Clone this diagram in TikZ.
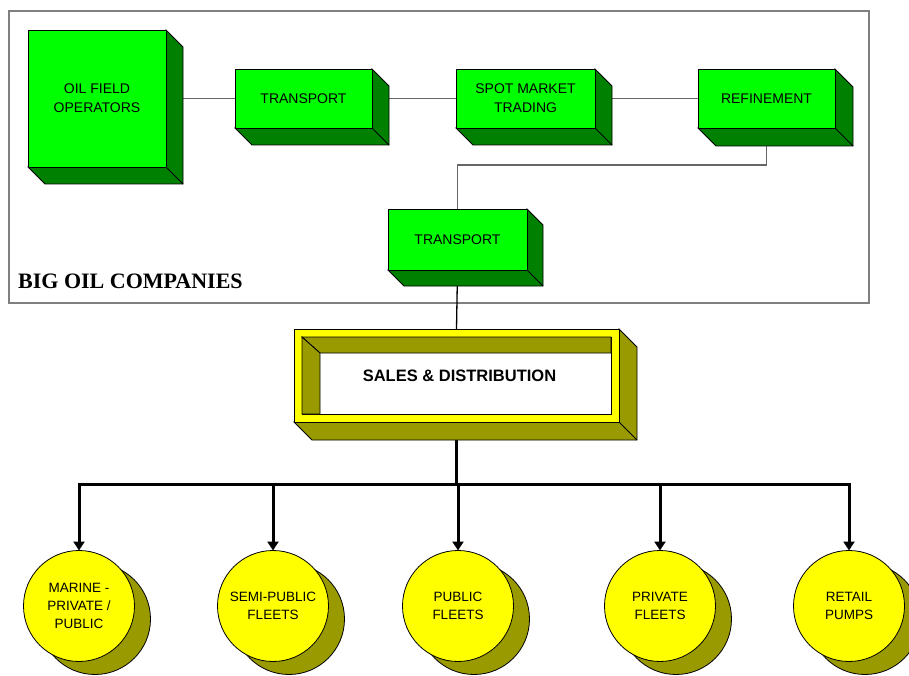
\documentclass[tikz,border=0pt]{standalone}
\usepackage{fontspec}
\setmainfont{Liberation Serif}
\setsansfont{Liberation Sans}
\usetikzlibrary{calc,arrows.meta,backgrounds}
\definecolor{gfront}{HTML}{00FF00}
\definecolor{gside}{HTML}{008000}
\definecolor{yfront}{HTML}{FFFF00}
\definecolor{yside}{HTML}{999900}
\definecolor{framegray}{HTML}{808080}
\newcommand\mkdepth[3][gside]{%
  \fill[#1,draw=black,line width=0.8pt] (#2.north east) -- ++(#3,#3) -- ($(#2.south east)+(#3,#3)$) -- ($(#2.south west)+(#3,#3)$) -- (#2.south west) -- (#2.south east) -- cycle;
  \draw[line width=0.8pt] (#2.south east) -- ++(#3,#3);}
\begin{document}
\begin{tikzpicture}[x=1pt,y=-1pt,
  gbox/.style={draw=black, line width=0.8pt, fill=gfront, inner sep=0pt, outer sep=0pt, align=center,
    font=\sffamily\fontsize{14}{19}\selectfont},
  ycirc/.style={circle, draw=black, line width=0.8pt, fill=yfront, inner sep=0pt, outer sep=0pt,
    minimum size=111pt, align=center, font=\sffamily\fontsize{13.5}{18}\selectfont},
  thinline/.style={draw=framegray!80!black, line width=1.4pt},
  darkline/.style={draw=black, line width=1.3pt},
  busline/.style={draw=black, line width=3pt},
  arr/.style={-{Triangle[length=9pt,width=11pt]}}]
\useasboundingbox (0,0) rectangle (909,676);
% main layer: nodes
\node[gbox, minimum width=138pt, minimum height=137pt] (oil) at (97,98.5) {OIL FIELD\\OPERATORS};
\node[gbox, minimum width=137pt, minimum height=59pt] (t1) at (303.5,98.5) {TRANSPORT};
\node[gbox, minimum width=139pt, minimum height=59pt] (spot) at (525.5,98.5) {SPOT MARKET\\TRADING};
\node[gbox, minimum width=137pt, minimum height=59pt] (ref) at (766.5,98.5) {REFINEMENT};
\node[gbox, minimum width=139pt, minimum height=61pt] (t2) at (457.5,239.5) {TRANSPORT};
\node[anchor=base west, inner sep=0pt, font=\bfseries\fontsize{22}{26}\selectfont] (big) at (18,288) {BIG OIL COMPANIES};
\node[draw=black, line width=0.8pt, minimum width=325pt, minimum height=93pt, inner sep=0pt, outer sep=0pt,
  font=\sffamily\bfseries\fontsize{16.5}{19}\selectfont] (sales) at (456.5,375.5) {\hspace{6pt}SALES \& DISTRIBUTION};
\node[ycirc] (c1) at (79,606) {MARINE -\\PRIVATE /\\PUBLIC};
\node[ycirc] (c2) at (273,606) {SEMI-PUBLIC\\FLEETS};
\node[ycirc] (c3) at (458,606) {PUBLIC\\FLEETS};
\node[ycirc] (c4) at (660,606) {PRIVATE\\FLEETS};
\node[ycirc] (c5) at (849,606) {RETAIL\\PUMPS};
\coordinate (bus) at (456.5,484);
\begin{scope}[on background layer]
  % frame
  \draw[framegray, line width=1.5pt] (9,11) rectangle (869,303);
  % connectors
  \draw[thinline] (oil.east) -- (t1.west);
  \draw[thinline] (t1.east) -- (spot.west);
  \draw[thinline] (spot.east) -- (ref.west);
  \draw[thinline] (ref.south) -- ++(0,37) -| (t2.north);
  \draw[darkline] (t2.south) -- (sales.north);
  \draw[busline] (sales.south) -- (bus);
  \foreach \c in {c1,c2,c3,c4,c5} \draw[busline,arr] (bus) -| (\c.north);
  % green extrusions
  \mkdepth{oil}{17}
  \mkdepth{t1}{17}
  \mkdepth{spot}{17}
  \mkdepth{ref}{18}
  \mkdepth{t2}{16}
  % sales hollow box
  \mkdepth[yside]{sales}{18}
  \fill[yfront] (sales.north west) rectangle (sales.south east);
  \draw[line width=0.8pt, fill=white] ($(sales.north west)+(8,8)$) rectangle ($(sales.south east)+(-8,-8)$);
  \fill[yside, draw=black, line width=0.8pt] ($(sales.north west)+(8,8)$) -- ($(sales.north east)+(-8,8)$) -- ($(sales.north east)+(-8,24)$) -- ($(sales.north west)+(26,24)$) -- cycle;
  \fill[yside, draw=black, line width=0.8pt] ($(sales.north west)+(8,8)$) -- ($(sales.north west)+(26,24)$) -- ($(sales.south west)+(26,-8)$) -- ($(sales.south west)+(8,-8)$) -- cycle;
  % circle shadows
  \foreach \c in {c1,c2,c3,c4,c5} \fill[yside, draw=black, line width=0.8pt] ($(\c.center)+(16,13)$) circle[radius=55.5pt];
\end{scope}
\end{tikzpicture}
\end{document}
